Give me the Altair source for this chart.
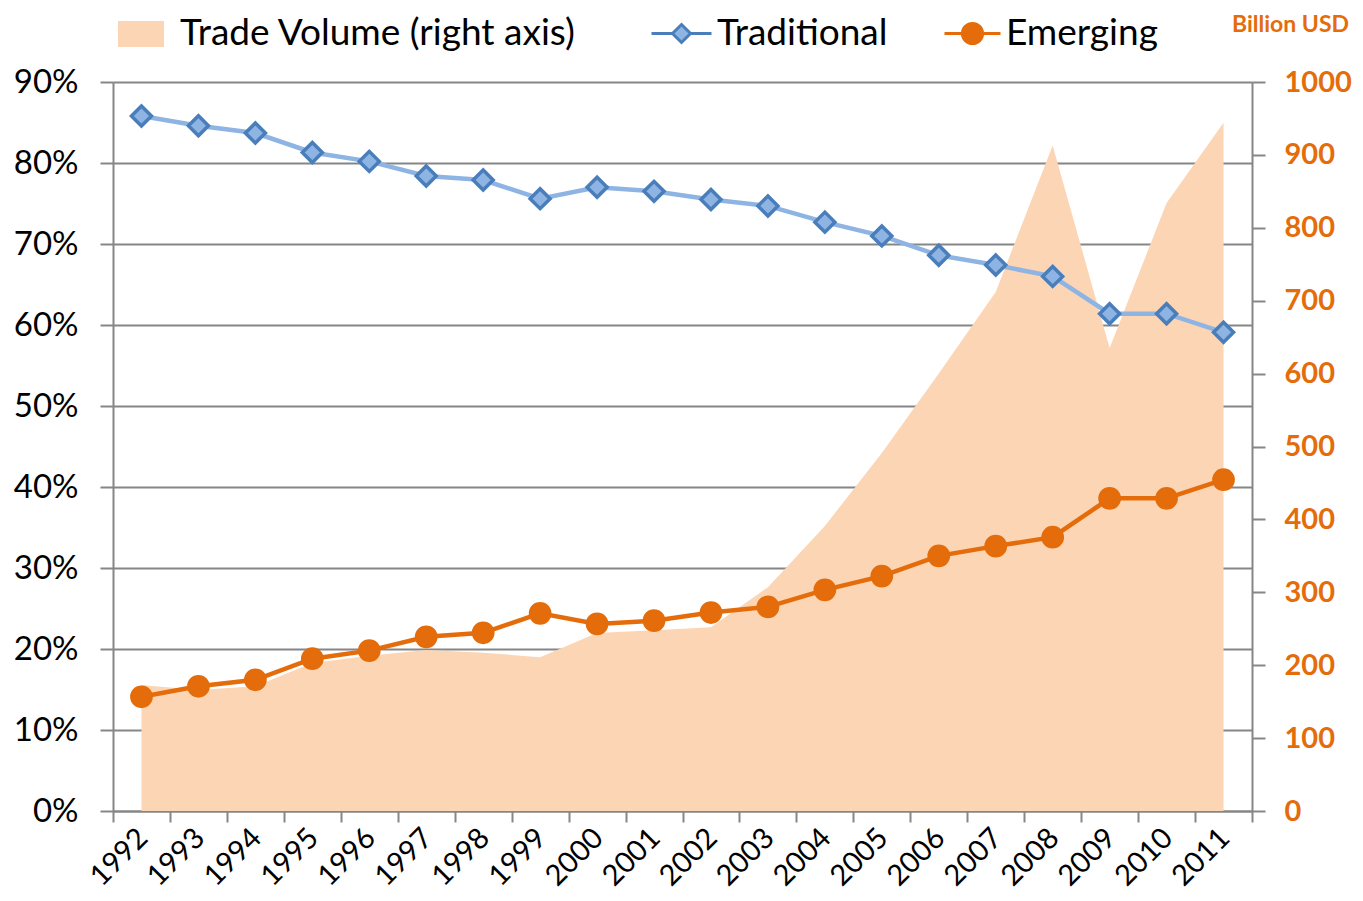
import altair as alt
import pandas as pd

years = [str(y) for y in range(1992, 2012)]
traditional = [0.858, 0.846, 0.837, 0.813, 0.802, 0.784, 0.779, 0.756, 0.770, 0.765,
               0.755, 0.747, 0.727, 0.710, 0.686, 0.674, 0.660, 0.614, 0.614, 0.591]
emerging = [0.141, 0.154, 0.162, 0.188, 0.198, 0.215, 0.220, 0.244, 0.231, 0.235,
            0.245, 0.252, 0.273, 0.290, 0.315, 0.327, 0.338, 0.386, 0.386, 0.409]
volume = [173, 166, 171, 203, 213, 221, 217, 211, 244, 248,
          252, 307, 391, 491, 600, 712, 913, 635, 834, 944]

df = pd.DataFrame({"year": years, "trad": traditional, "emer": emerging, "vol": volume})

FONT = "Lato"
ORANGE = "#e46c0a"
LBLUE = "#8eb4e3"
DBLUE = "#4a7ebb"
PEACH = "#fcd5b5"
GRAY = "#868686"

base = alt.Chart(df)

x_enc = alt.X("year:O", sort=years, bandPosition=0.5,
              scale=alt.Scale(type="band", paddingInner=0, paddingOuter=0),
              axis=alt.Axis(title=None, tickBand="extent", labelAngle=-45, labelAlign="right",
                            labelBaseline="middle", labelPadding=11, labelOffset=1,
                            tickSize=11, tickWidth=2, tickColor=GRAY, domainColor=GRAY,
                            domainWidth=2, labelFont=FONT, labelFontSize=29, labelColor="black",
                            grid=False))

area = base.transform_calculate(lab="'Trade Volume (right axis)'").mark_area(opacity=1).encode(
    x=x_enc,
    y=alt.Y("vol:Q", scale=alt.Scale(domain=[0, 1000], nice=False),
            axis=alt.Axis(orient="right", values=list(range(0, 1001, 100)), format="d", grid=False,
                          tickSize=13, tickWidth=2, tickColor=GRAY, domainColor=GRAY, domainWidth=2,
                          labelFont=FONT, labelFontSize=29, labelFontWeight="bold", labelColor=ORANGE,
                          labelPadding=19,
                          title="Billion USD", titleAngle=0, titleFont=FONT, titleFontSize=23,
                          titleFontWeight="bold", titleColor=ORANGE, titleX=38, titleY=-58,
                          titleAlign="center", titleBaseline="middle")),
    fill=alt.Fill("lab:N", scale=alt.Scale(range=[PEACH]),
                  legend=alt.Legend(title=None, orient="none", legendX=5, legendY=-71, padding=0,
                                    symbolType="M-1,-0.56H1V0.56H-1Z", symbolSize=2116,
                                    symbolStrokeWidth=0, labelFont=FONT, labelFontSize=37,
                                    labelColor="black", labelOffset=16, labelLimit=0)),
)

y_left = alt.Y("trad:Q", scale=alt.Scale(domain=[0, 0.9], nice=False),
               axis=alt.Axis(orient="left", values=[i / 10 for i in range(10)], format=".0%",
                             grid=True, gridColor=GRAY, gridWidth=2, tickSize=13, tickWidth=2,
                             tickColor=GRAY, domainColor=GRAY, domainWidth=2, labelFont=FONT,
                             labelFontSize=33, labelColor="black", labelPadding=22, title=None))

trad_line = base.mark_line(color=LBLUE, strokeWidth=4.5).encode(x=x_enc, y=y_left)
trad_pts = base.transform_calculate(lab="'Traditional'").mark_point(
    shape="diamond", filled=False, fill=LBLUE, fillOpacity=1, strokeWidth=3.5, size=400, opacity=1
).encode(
    x=x_enc, y=alt.Y("trad:Q"),
    stroke=alt.Stroke("lab:N", scale=alt.Scale(range=[DBLUE]),
                      legend=alt.Legend(title=None, orient="none", legendX=537, legendY=-80, padding=0,
                                        symbolType="M-1,0H-0.3M0.3,0H1M0,-0.3L0.3,0L0,0.3L-0.3,0Z",
                                        symbolSize=3600, symbolStrokeWidth=3, symbolFillColor=LBLUE,
                                        labelFont=FONT, labelFontSize=37, labelColor="black",
                                        labelOffset=4, labelLimit=0)),
)

em_line = base.mark_line(color=ORANGE, strokeWidth=4.5).encode(x=x_enc, y=alt.Y("emer:Q"))
em_pts = base.transform_calculate(lab="'Emerging'").mark_point(
    shape="circle", filled=True, color=ORANGE, size=430, opacity=1
).encode(
    x=x_enc, y=alt.Y("emer:Q"),
    stroke=alt.Stroke("lab:N", scale=alt.Scale(range=[ORANGE]),
                      legend=alt.Legend(title=None, orient="none", legendX=830, legendY=-78, padding=0,
                                        symbolType="M-1,0H1M0.36,0A0.36,0.36,0,1,1,-0.36,0A0.36,0.36,0,1,1,0.36,0Z",
                                        symbolSize=3136, symbolStrokeWidth=3, symbolFillColor=ORANGE,
                                        labelFont=FONT, labelFontSize=37, labelColor="black",
                                        labelOffset=4, labelLimit=0)),
)

lines = alt.layer(trad_line, trad_pts, em_line, em_pts).resolve_scale(stroke="independent")

chart = alt.layer(area, lines).resolve_scale(y="independent").properties(
    width=1139, height=729,
    autosize=alt.AutoSizeParams(type="none"),
    padding={"left": 105, "top": 74, "right": 102, "bottom": 80},
).configure_view(stroke=None).configure(background="white")

chart.save("out.html", embed_options={"renderer": "svg", "actions": False})
